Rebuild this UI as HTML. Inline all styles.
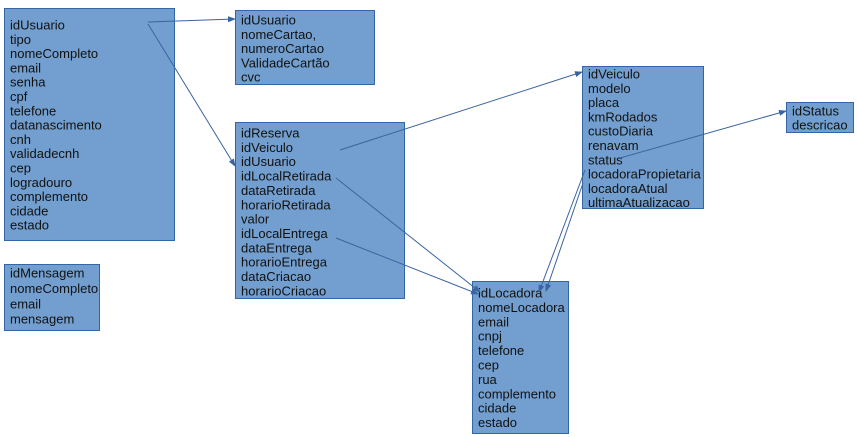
<!DOCTYPE html>
<html><head><meta charset="utf-8"><style>
html,body{margin:0;padding:0;background:#fff;}
svg{display:block;}
text{font-family:"Liberation Sans",sans-serif;font-size:13px;fill:#111;}
</style></head><body>
<svg width="857" height="437" viewBox="0 0 857 437">
<defs><marker id="ah" markerWidth="8" markerHeight="6" refX="7" refY="3" orient="auto" markerUnits="userSpaceOnUse"><path d="M0,0 L8,3 L0,6 z" fill="#3a64a0"/></marker></defs>
<g id="boxes"></g>
<g id="arrows" stroke="#3a64a0" stroke-width="1" fill="none"></g>
</svg>
<script>
const boxes=[
 {name:'usuario-table',x:4,y:8,w:170,h:232,y0:28,lh:14.3,f:['idUsuario','tipo','nomeCompleto','email','senha','cpf','telefone','datanascimento','cnh','validadecnh','cep','logradouro','complemento','cidade','estado']},
 {name:'cartao-table',x:235,y:10,w:139,h:74,y0:23,lh:14.25,f:['idUsuario','nomeCartao,','numeroCartao','ValidadeCartão','cvc']},
 {name:'reserva-table',x:235,y:122,w:169,h:176,y0:136,lh:14.35,f:['idReserva','idVeiculo','idUsuario','idLocalRetirada','dataRetirada','horarioRetirada','valor','idLocalEntrega','dataEntrega','horarioEntrega','dataCriacao','horarioCriacao']},
 {name:'veiculo-table',x:582,y:66,w:121,h:142,y0:77,lh:14.3,f:['idVeiculo','modelo','placa','kmRodados','custoDiaria','renavam','status','locadoraPropietaria','locadoraAtual','ultimaAtualizacao']},
 {name:'status-table',x:786,y:102,w:67,h:30,y0:114,lh:14,f:['idStatus','descricao']},
 {name:'locadora-table',x:472,y:281,w:96,h:152,y0:296,lh:14.4,f:['idLocadora','nomeLocadora','email','cnpj','telefone','cep','rua','complemento','cidade','estado']},
 {name:'mensagem-table',x:4,y:264,w:95,h:66,y0:276,lh:15.4,f:['idMensagem','nomeCompleto','email','mensagem']}
];
const arrows=[[148,22,235,19],[148,24,235,166],[340,150,582,72],[336,178,480,292],[336,238,478,294],[620,158,786,111],[585,170,539,292],[583,183,546,291]];
const NS='http://www.w3.org/2000/svg';
const gb=document.getElementById('boxes');
for(const b of boxes){
 const g=document.createElementNS(NS,'g');
 
 
 const r=document.createElementNS(NS,'rect');
 r.setAttribute('x',b.x+.5);r.setAttribute('y',b.y+.5);r.setAttribute('width',b.w);r.setAttribute('height',b.h);
 r.setAttribute('fill','#729fcf');r.setAttribute('stroke','#3465a4');
 
 
 g.appendChild(r);
 b.f.forEach((t,i)=>{
  const tx=document.createElementNS(NS,'text');
  tx.setAttribute('x',b.x+6);tx.setAttribute('y',b.y0+i*b.lh+1.5);
  tx.textContent=t;
  
  
  g.appendChild(tx);
 });
 gb.appendChild(g);
}
const ga=document.getElementById('arrows');
arrows.forEach((a,i)=>{
 const l=document.createElementNS(NS,'line');
 l.setAttribute('x1',a[0]);l.setAttribute('y1',a[1]);l.setAttribute('x2',a[2]);l.setAttribute('y2',a[3]);
 l.setAttribute('marker-end','url(#ah)');
 
 
 ga.appendChild(l);
});
</script>
</body></html>
